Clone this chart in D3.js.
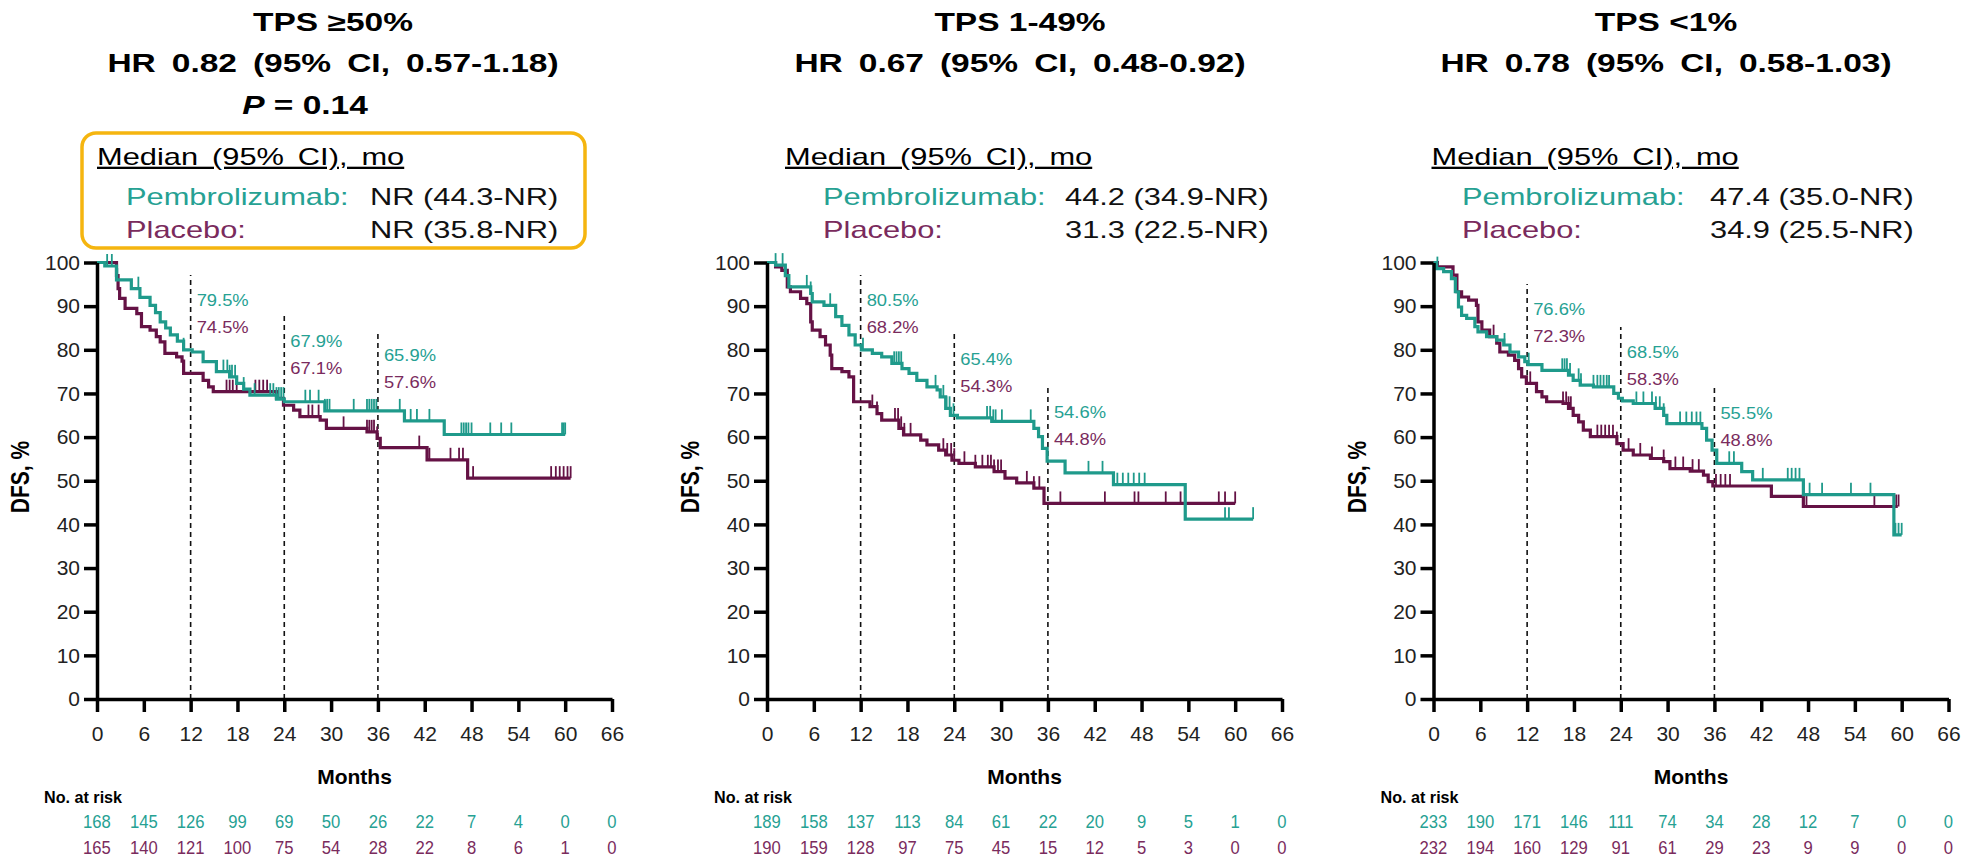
<!DOCTYPE html>
<html>
<head>
<meta charset="utf-8">
<title>DFS by PD-L1 TPS</title>
<script src="https://cdn.jsdelivr.net/npm/d3@7"></script>
<style>
    html, body { margin: 0; padding: 0; background: #fff; }
    svg { display: block; font-family: "Liberation Sans", Arial, sans-serif; }
</style>
</head>
<body>
<div id="chart"></div>
<script>
(function(){
    'use strict';

    // ---- data ----
    var months = [0, 6, 12, 18, 24, 30, 36, 42, 48, 54, 60, 66];
    var dfsTicks = [0, 10, 20, 30, 40, 50, 60, 70, 80, 90, 100];
    var landmarkMonths = [12, 24, 36];

    var panelTitles = ['TPS \u226550%', 'TPS 1-49%', 'TPS <1%'];
    var hrLabels = ['HR 0.82 (95% CI, 0.57-1.18)', 'HR 0.67 (95% CI, 0.48-0.92)', 'HR 0.78 (95% CI, 0.58-1.03)'];
    var pValues = ['0.14', null, null];
    var armNames = ['Pembrolizumab:', 'Placebo:'];
    var pembroMedian = ['NR (44.3-NR)', '44.2 (34.9-NR)', '47.4 (35.0-NR)'];
    var placeboMedian = ['NR (35.8-NR)', '31.3 (22.5-NR)', '34.9 (25.5-NR)'];

    var pembroLandmark = [[79.5, 67.9, 65.9], [80.5, 65.4, 54.6], [76.6, 68.5, 55.5]];
    var placeboLandmark = [[74.5, 67.1, 57.6], [68.2, 54.3, 44.8], [72.3, 58.3, 48.8]];

    var pembroRisk50 = [168, 145, 126, 99, 69, 50, 26, 22, 7, 4, 0, 0];
    var placeboRisk50 = [165, 140, 121, 100, 75, 54, 28, 22, 8, 6, 1, 0];
    var pembroRisk149 = [189, 158, 137, 113, 84, 61, 22, 20, 9, 5, 1, 0];
    var placeboRisk149 = [190, 159, 128, 97, 75, 45, 15, 12, 5, 3, 0, 0];
    var pembroRisk1 = [233, 190, 171, 146, 111, 74, 34, 28, 12, 7, 0, 0];
    var placeboRisk1 = [232, 194, 160, 129, 91, 61, 29, 23, 9, 9, 0, 0];

    // KM steps: [month, DFS % after the event]
    var pembroSteps50 = [[0,100],[1.0,99.2],[2.5,96],[4.4,94],[5.5,92],[6.8,90.2],[7.5,88.5],[8.1,86.4],[8.8,85],[9.4,83.4],
        [10.3,82],[11.1,80],[12.2,79.5],[13.6,77.3],[15.3,75],[17,73.8],[17.9,72.3],[18.8,71],[19.6,69.6],[23,68.7],
        [24,68.1],[29.2,66],[39.4,63.7],[44.5,60.6],[60,60.6]];
    var placeboSteps50 = [[0,100],[2.5,97],[2.7,94],[2.9,91.8],[3.6,89.5],[5.1,88.3],[5.7,85.3],[6.8,84.5],[7.6,83],[8.1,81.8],
        [8.7,79.2],[10.2,78.4],[10.9,77.4],[11.1,74.6],[13.6,73],[14.3,71.5],[14.9,70.4],[23,68.9],[23.9,67.3],[25.2,66.2],
        [26,64.7],[28.6,63.9],[29.4,62],[34.6,61.2],[35.9,59.7],[36.3,57.6],[42.3,54.8],[47.5,50.6],[60.7,50.6]];
    var pembroSteps149 = [[0,100],[1.1,99.4],[2.35,97],[2.8,94.4],[5.6,92.9],[5.8,91],[7.3,90.2],[8.8,87.6],[9.6,85.6],[10.5,83.4],
        [11.3,81.1],[12.1,80],[13.5,79.2],[14.7,78.4],[16,76.9],[17.3,75.7],[18.2,74.6],[19.2,73],[20.5,71.5],[21.8,70.8],
        [22.2,69.2],[22.9,66.6],[23.5,65],[24.4,64.4],[28.8,63.6],[34.2,62],[34.8,60.1],[35.3,57.4],[35.9,54.5],[38.2,51.8],
        [44.4,49.1],[53.6,41.2],[62.3,41.2]];
    var placeboSteps149 = [[0,100],[1.1,99],[1.9,98.2],[2.6,94.4],[3,93.3],[4.3,91.8],[5.1,90.6],[5.6,86.4],[5.8,84.5],[6.8,83],
        [7.5,81.1],[8.1,78.8],[8.3,75.7],[9.6,75],[10.5,73.8],[11.1,68.1],[13.2,67],[14.1,65.4],[14.7,63.9],[16.9,62],
        [17.5,60.5],[19.7,59.3],[20.5,58.2],[22,57],[22.9,55.9],[23.7,54.7],[24.6,54],[26.7,53.2],[29.1,52.1],[30.5,50.6],
        [32,49.5],[34.2,48.3],[35.5,44.8],[60,44.8]];
    var pembroSteps1 = [[0,100],[0.3,98.6],[1.3,97.9],[2.3,96.3],[2.8,93.3],[3.2,89.8],[3.6,87.9],[4.25,87.2],[5.3,85.3],[5.7,84.1],
        [6.8,83],[8.1,82.2],[9,81.1],[9.8,79.5],[10.9,78.4],[11.7,77.3],[12.1,76.6],[13.9,75.3],[17.3,74.2],[17.9,73],
        [18.8,71.9],[20.5,71.5],[23.1,70],[23.7,68.9],[24.2,68.3],[25.6,67.7],[28.4,66.6],[29.5,65],[29.9,63.1],[34.4,62],
        [35,59.3],[35.7,57],[36.3,54],[39.5,52.1],[40.9,50.2],[47.4,46.8],[59,37.6],[60,37.6]];
    var placeboSteps1 = [[0,100],[0.5,99],[2.5,97.1],[3,93.3],[3.6,92.1],[4.5,91.4],[5.5,90.2],[5.7,86.4],[6.2,84.5],[7.2,83],
        [8.1,81.5],[8.5,79.5],[9.6,78.8],[10.4,77.6],[10.9,75.7],[11.3,73.8],[11.9,72.3],[13.2,70.4],[13.9,69.2],[14.5,68.1],
        [16.6,67.7],[17.3,66.6],[17.9,65],[18.6,63.5],[19.2,61.6],[20.1,60.1],[23.5,58.5],[24.3,57],[25.6,55.9],[27.8,55.1],
        [29.5,54.4],[30.3,52.8],[32.9,52.2],[34.6,51.3],[35.2,49.8],[35.8,48.8],[43.3,46.4],[47.4,44.1],[59.5,44.1]];

    // censoring times, months
    var pembroCens50 = [1.3,1.9,2.6,5.3,11.1,16.2,16.7,17.0,17.3,17.7,18.8,20.2,22.2,22.6,23.0,23.3,23.6,23.9,26.7,27.3,28.4,
        29.2,29.5,29.8,32.9,34.6,34.9,35.2,35.5,35.8,38.8,40.2,41.0,42.6,46.7,47.0,47.3,47.6,48.0,50.4,51.8,53.1,59.6,59.8,60.0];
    var placeboCens50 = [16.6,17.0,17.4,17.9,20.3,20.8,21.3,21.8,27.1,27.6,28.4,31.6,34.6,34.9,35.2,35.5,35.9,41.3,42.6,45.3,
        46.4,46.9,47.5,48.2,58.2,58.8,59.3,59.8,60.3,60.7];
    var pembroCens149 = [1.1,2.0,5.1,5.6,8.1,12.3,16.3,16.6,16.9,17.2,21.6,22.6,23.0,23.4,23.9,28.2,28.6,29.0,29.3,30.1,33.8,
        41.2,43.0,44.9,45.6,46.3,47.0,47.7,48.4,53.6,58.7,59.2,62.3];
    var placeboCens149 = [13.5,14.1,16.4,16.8,17.2,17.6,18.4,22.6,23.1,23.6,24.0,25.3,26.7,27.6,28.3,28.7,29.1,29.6,30.0,33.3,
        34.2,34.9,37.6,43.3,47.1,47.6,51.1,53.0,57.9,58.7,60.0];
    var pembroCens1 = [0.5,3.2,9.1,12.2,16.5,16.8,17.1,17.5,18.6,18.9,20.5,21.0,21.4,21.8,22.2,22.5,26.0,26.9,28.0,28.5,29.0,
        29.5,31.6,32.4,33.1,33.7,34.2,37.9,38.5,42.2,45.4,45.9,46.4,46.9,47.4,48.2,49.8,53.5,56.0,59.2,59.6,60.0];
    var placeboCens1 = [7.7,12.4,16.6,17.0,17.3,17.6,21.0,21.5,22.0,22.5,23.0,23.5,25.0,26.5,28.0,29.5,31.0,32.0,33.2,34.0,
        36.2,36.8,37.4,38.0,47.8,56.5,59.0,59.3,59.6];

    var pembroSteps = [pembroSteps50, pembroSteps149, pembroSteps1];
    var placeboSteps = [placeboSteps50, placeboSteps149, placeboSteps1];
    var pembroCens = [pembroCens50, pembroCens149, pembroCens1];
    var placeboCens = [placeboCens50, placeboCens149, placeboCens1];
    var pembroRisk = [pembroRisk50, pembroRisk149, pembroRisk1];
    var placeboRisk = [placeboRisk50, placeboRisk149, placeboRisk1];

    // ---- layout ----
    var TEAL = '#1f9a8b', PLUM = '#651245', TEAL_TXT = '#26a193', PLUM_TXT = '#7a2b5d', GOLD = '#f5b50f';
    var SX = 1.34;                       // the source figure is stretched sideways
    var panelX0 = [97, 767, 1433.5];
    var plotW = 515, yTop = 262.5, yBottom = 699;
    var titleCx = [333, 1020, 1666];
    var pLineCx = 305;
    var medianDx = [[0, 29, 273], [18, 56, 298], [-2, 28.5, 276.5]];
    var labelY = [[300, 341, 355], [300, 359, 412], [309, 352, 413]];

    var svg = d3.select('#chart').append('svg')
        .attr('width', 1962)
        .attr('height', 860);

    function addText(g, x, y, str, sx){
        return g.append('text')
            .attr('transform', 'translate(' + x + ',' + y + ') scale(' + sx + ',1)')
            .text(str);
    }

    function survAt(steps, t){
        var i = d3.bisector(function(d){ return d[0]; }).right(steps, t) - 1;
        return steps[Math.max(0, i)][1];
    }

    function drawPanel(p){
        var x0 = panelX0[p];
        var g = svg.append('g').attr('class', 'panel-' + p);
        var x = d3.scaleLinear().domain([0, 66]).range([x0, x0 + plotW]);
        var y = d3.scaleLinear().domain([0, 100]).range([yBottom, yTop]);

        // titles
        var head = g.append('g').attr('font-weight', 'bold').attr('font-size', 25)
            .attr('text-anchor', 'middle').attr('fill', '#000');
        addText(head, titleCx[p], 31, panelTitles[p], SX);
        addText(head, titleCx[p], 72, hrLabels[p], SX).style('word-spacing', '5px');
        if(pValues[p]){
            var pl = head.append('text')
                .attr('transform', 'translate(' + pLineCx + ',114) scale(' + SX + ',1)');
            pl.append('tspan').attr('font-style', 'italic').text('P');
            pl.append('tspan').text(' = ' + pValues[p]);
            g.append('rect')
                .attr('x', x0 - 15).attr('y', 133)
                .attr('width', 503).attr('height', 115)
                .attr('rx', 14).attr('ry', 14)
                .attr('fill', 'none').attr('stroke', GOLD).attr('stroke-width', 3.5);
        }

        // medians
        var med = g.append('g').attr('font-size', 23);
        addText(med, x0 + medianDx[p][0], 165, 'Median (95% CI), mo', SX)
            .attr('text-decoration', 'underline').style('word-spacing', '4px').attr('fill', '#000');
        addText(med, x0 + medianDx[p][1], 205, armNames[0], SX).attr('fill', TEAL_TXT);
        addText(med, x0 + medianDx[p][1], 238, armNames[1], SX).attr('fill', PLUM_TXT);
        addText(med, x0 + medianDx[p][2], 205, pembroMedian[p], SX).attr('fill', '#111');
        addText(med, x0 + medianDx[p][2], 238, placeboMedian[p], SX).attr('fill', '#111');

        // landmark dashed lines and rates
        landmarkMonths.forEach(function(m, k){
            g.append('line')
                .attr('x1', x(m)).attr('x2', x(m))
                .attr('y1', y(0)).attr('y2', labelY[p][k] - 25)
                .attr('stroke', '#111').attr('stroke-width', 1.6)
                .attr('stroke-dasharray', '5,4');
            addText(g, x(m) + 6, labelY[p][k] + 6, pembroLandmark[p][k].toFixed(1) + '%', 1.08)
                .attr('font-size', 17).attr('fill', TEAL_TXT);
            addText(g, x(m) + 6, labelY[p][k] + 33, placeboLandmark[p][k].toFixed(1) + '%', 1.08)
                .attr('font-size', 17).attr('fill', PLUM_TXT);
        });

        // curves
        var line = d3.line()
            .x(function(d){ return x(d[0]); })
            .y(function(d){ return y(d[1]); })
            .curve(d3.curveStepAfter);

        var arms = [
            {steps: placeboSteps[p], cens: placeboCens[p], color: PLUM},
            {steps: pembroSteps[p], cens: pembroCens[p], color: TEAL}
        ];
        arms.forEach(function(a){
            g.append('path')
                .datum(a.steps)
                .attr('d', line)
                .attr('fill', 'none')
                .attr('stroke', a.color)
                .attr('stroke-width', 3.2);
            g.selectAll(null)
                .data(a.cens).enter()
                .append('line')
                .attr('x1', function(d){ return x(d); })
                .attr('x2', function(d){ return x(d); })
                .attr('y1', function(d){ return y(survAt(a.steps, d)); })
                .attr('y2', function(d){ return y(survAt(a.steps, d)) - 12; })
                .attr('stroke', a.color)
                .attr('stroke-width', 1.8);
        });

        // axes
        var xAxis = g.append('g')
            .attr('transform', 'translate(0,' + yBottom + ')')
            .call(d3.axisBottom(x).tickValues(months).tickSize(13).tickSizeOuter(0).tickPadding(14));
        var yAxis = g.append('g')
            .attr('transform', 'translate(' + x0 + ',0)')
            .call(d3.axisLeft(y).tickValues(dfsTicks).tickSize(13).tickSizeOuter(0).tickPadding(4));
        [xAxis, yAxis].forEach(function(ax){
            ax.attr('font-family', null).attr('font-size', 21);
            ax.selectAll('path, line').attr('stroke', '#000').attr('stroke-width', 3.5);
            ax.selectAll('text').attr('fill', '#222');
        });

        // axis titles
        addText(g, x0 - 77, 477, 'DFS, %', 1)
            .attr('transform', 'translate(' + (x0 - 77) + ',477) scale(1.27,1) rotate(-90)')
            .attr('text-anchor', 'middle').attr('dominant-baseline', 'central')
            .attr('font-weight', 'bold').attr('font-size', 21);
        addText(g, x0 + plotW / 2, 784, 'Months', 1)
            .attr('text-anchor', 'middle').attr('font-weight', 'bold').attr('font-size', 21);

        // number at risk
        addText(g, x0 - 53, 803, 'No. at risk', 0.95)
            .attr('font-weight', 'bold').attr('font-size', 17);
        var risk = g.append('g').attr('font-size', 18.5).attr('text-anchor', 'middle');
        months.forEach(function(m, k){
            addText(risk, x(m), 828, pembroRisk[p][k], 0.9).attr('fill', TEAL_TXT);
            addText(risk, x(m), 854, placeboRisk[p][k], 0.9).attr('fill', PLUM_TXT);
        });
    }

    [0, 1, 2].forEach(drawPanel);
}());
</script>
</body>
</html>
